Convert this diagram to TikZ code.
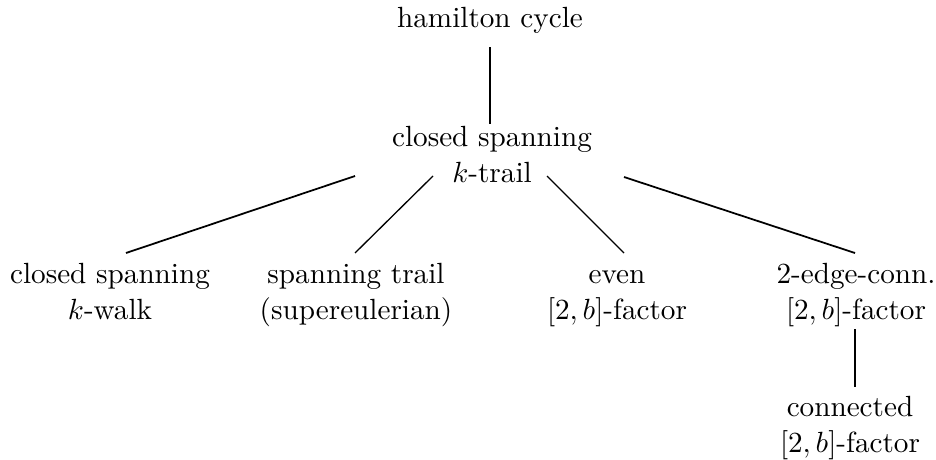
\documentclass[tikz,border=0pt]{standalone}
\begin{document}
\begin{tikzpicture}[x=0.3425pt,y=-0.3425pt,
  lbl/.style={align=center,inner sep=0pt,anchor=base},
  thin edge/.style={line width=0.45pt},
  mid edge/.style={line width=0.6pt},
  thick edge/.style={line width=0.85pt}]
\useasboundingbox (0,0) rectangle (936,459);
\node[lbl] (ham) at (490,27) {hamilton cycle};
\node[lbl] (cst) at (492,182) {closed spanning\\$k$-trail};
\node[lbl] (csw) at (110,319) {closed spanning\\$k$-walk};
\node[lbl] (st) at (356,319) {spanning trail\\(supereulerian)};
\node[lbl] (even) at (617,319) {even\\$[2,b]$-factor};
\node[lbl] (tec) at (856,319) {2-edge-conn.\\$[2,b]$-factor};
\node[lbl] (conn) at (850,452) {connected\\$[2,b]$-factor};
\coordinate (a1) at (490,47);  \coordinate (a2) at (490,124);
\coordinate (b1) at (355,176); \coordinate (b2) at (126,253);
\coordinate (c1) at (433,176); \coordinate (c2) at (355,253);
\coordinate (d1) at (547,176); \coordinate (d2) at (624,253);
\coordinate (e1) at (624,177); \coordinate (e2) at (855,253);
\coordinate (f1) at (855,329); \coordinate (f2) at (855,387);
\draw[thick edge] (a1) -- (a2);
\draw[mid edge] (b1) -- (b2);
\draw[thin edge] (c1) -- (c2);
\draw[thin edge] (d1) -- (d2);
\draw[mid edge] (e1) -- (e2);
\draw[thick edge] (f1) -- (f2);
\end{tikzpicture}
\end{document}
